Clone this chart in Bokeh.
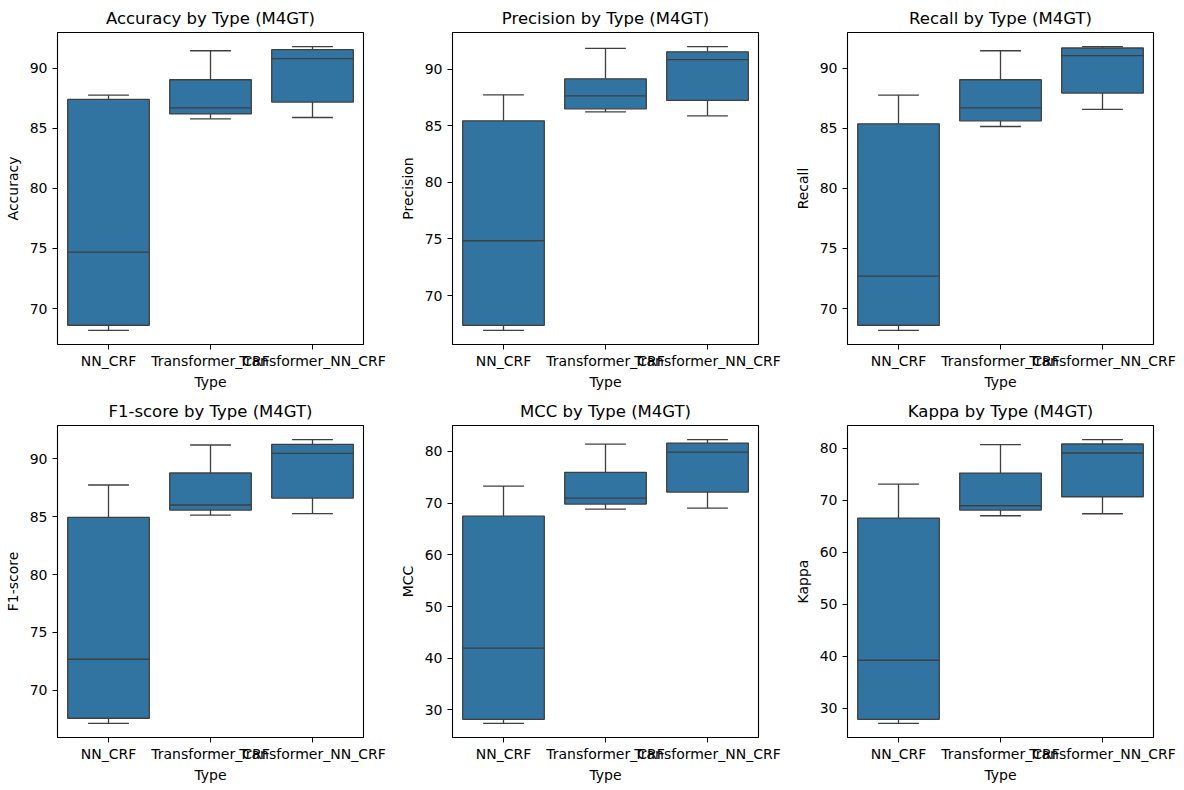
from bokeh.plotting import figure
from bokeh.layouts import column, row
from bokeh.models import FixedTicker, SingleIntervalTicker, Range1d
from bokeh.embed import file_html
from bokeh.resources import INLINE

categories = ["NN_CRF", "Transformer_CRF", "Transformer_NN_CRF"]
metrics = ["Accuracy", "Precision", "Recall", "F1-score", "MCC", "Kappa"]

# five-number summaries per category: whisker low, q1, median, q3, whisker high
accuracy_low = [68.19, 85.78, 85.89]
accuracy_q1 = [68.61, 86.19, 87.17]
accuracy_med = [74.69, 86.69, 90.78]
accuracy_q3 = [87.39, 89.03, 91.53]
accuracy_high = [87.75, 91.44, 91.78]

precision_low = [66.93, 86.22, 85.87]
precision_q1 = [67.37, 86.49, 87.23]
precision_med = [74.84, 87.64, 90.83]
precision_q3 = [85.43, 89.14, 91.53]
precision_high = [87.73, 91.83, 91.98]

recall_low = [68.19, 85.14, 86.56]
recall_q1 = [68.61, 85.61, 87.92]
recall_med = [72.69, 86.69, 91.03]
recall_q3 = [85.36, 89.03, 91.67]
recall_high = [87.75, 91.44, 91.78]

f1_low = [67.14, 85.15, 85.27]
f1_q1 = [67.58, 85.58, 86.62]
f1_med = [72.68, 86.02, 90.49]
f1_q3 = [84.95, 88.79, 91.27]
f1_high = [87.75, 91.21, 91.67]

mcc_low = [27.42, 68.84, 69.03]
mcc_q1 = [28.19, 69.81, 72.13]
mcc_med = [41.94, 70.97, 79.87]
mcc_q3 = [67.48, 75.94, 81.61]
mcc_high = [73.29, 81.42, 82.26]

kappa_low = [27.12, 66.99, 67.37]
kappa_q1 = [27.88, 68.08, 70.64]
kappa_med = [39.23, 68.91, 79.04]
kappa_q3 = [66.54, 75.19, 80.77]
kappa_high = [73.08, 80.64, 81.60]

stats = {
    "Accuracy": (accuracy_low, accuracy_q1, accuracy_med, accuracy_q3, accuracy_high),
    "Precision": (precision_low, precision_q1, precision_med, precision_q3, precision_high),
    "Recall": (recall_low, recall_q1, recall_med, recall_q3, recall_high),
    "F1-score": (f1_low, f1_q1, f1_med, f1_q3, f1_high),
    "MCC": (mcc_low, mcc_q1, mcc_med, mcc_q3, mcc_high),
    "Kappa": (kappa_low, kappa_q1, kappa_med, kappa_q3, kappa_high),
}

BOX = "#3274a1"
EDGE = "#3f3f3f"
FONT = "DejaVu Sans"
col_widths = [395, 395, 386]
row_heights = [393, 393]
FW, FH = 306, 312
LEFT, TOP = 57, 32

figs = []
for i, m in enumerate(metrics):
    r, c = divmod(i, 3)
    w, h = col_widths[c], row_heights[r]
    low, q1, med, q3, high = stats[m]
    lo, hi = min(low), max(high)
    pad = 0.05 * (hi - lo)
    p = figure(width=w, height=h, output_backend="svg", toolbar_location=None,
               x_range=Range1d(-0.5, 2.5), y_range=Range1d(lo - pad, hi + pad),
               min_border_left=LEFT, min_border_right=w - LEFT - FW,
               min_border_top=TOP, min_border_bottom=h - TOP - FH,
               title=f"{m} by Type (M4GT)")
    p.title.align = "center"
    p.title.text_font = FONT
    p.title.text_font_size = "16.5px"
    p.title.text_font_style = "normal"
    p.title.text_color = "black"
    p.title.standoff = 9
    p.grid.visible = False
    p.outline_line_color = "black"
    p.outline_line_width = 1.1
    p.background_fill_color = "white"
    p.border_fill_color = "white"

    xs = list(range(len(categories)))
    # whiskers
    p.segment(x0=xs, y0=low, x1=xs, y1=q1, line_color=EDGE, line_width=1.3)
    p.segment(x0=xs, y0=q3, x1=xs, y1=high, line_color=EDGE, line_width=1.3)
    # caps
    p.segment(x0=[x - 0.2 for x in xs], y0=low, x1=[x + 0.2 for x in xs], y1=low,
              line_color=EDGE, line_width=1.3)
    p.segment(x0=[x - 0.2 for x in xs], y0=high, x1=[x + 0.2 for x in xs], y1=high,
              line_color=EDGE, line_width=1.3)
    # boxes
    p.vbar(x=xs, width=0.8, bottom=q1, top=q3, fill_color=BOX,
           line_color=EDGE, line_width=1.3)
    # medians
    p.segment(x0=[x - 0.4 for x in xs], y0=med, x1=[x + 0.4 for x in xs], y1=med,
              line_color=EDGE, line_width=1.3)

    p.xaxis.ticker = FixedTicker(ticks=xs)
    p.xaxis.major_label_overrides = {x: categories[x] for x in xs}
    p.xaxis.axis_label = "Type"
    p.yaxis.axis_label = m
    interval = 5 if (hi - lo) < 30 else 10
    p.yaxis.ticker = SingleIntervalTicker(interval=interval, num_minor_ticks=0)
    for ax in (p.xaxis[0], p.yaxis[0]):
        ax.axis_line_color = None
        ax.major_tick_line_color = "black"
        ax.major_tick_out = 5
        ax.major_tick_in = 0
        ax.minor_tick_line_color = None
        ax.major_label_text_font = FONT
        ax.major_label_text_font_size = "14px"
        ax.major_label_text_color = "black"
        ax.axis_label_text_font = FONT
        ax.axis_label_text_font_size = "14px"
        ax.axis_label_text_font_style = "normal"
        ax.axis_label_text_color = "black"
    p.xaxis.major_label_standoff = 3
    p.xaxis.axis_label_standoff = 2
    p.yaxis.major_label_standoff = 5
    p.yaxis.axis_label_standoff = 6
    figs.append(p)

layout = column(row(*figs[:3]), row(*figs[3:]))
open("out.html", "w").write(file_html(layout, INLINE))
